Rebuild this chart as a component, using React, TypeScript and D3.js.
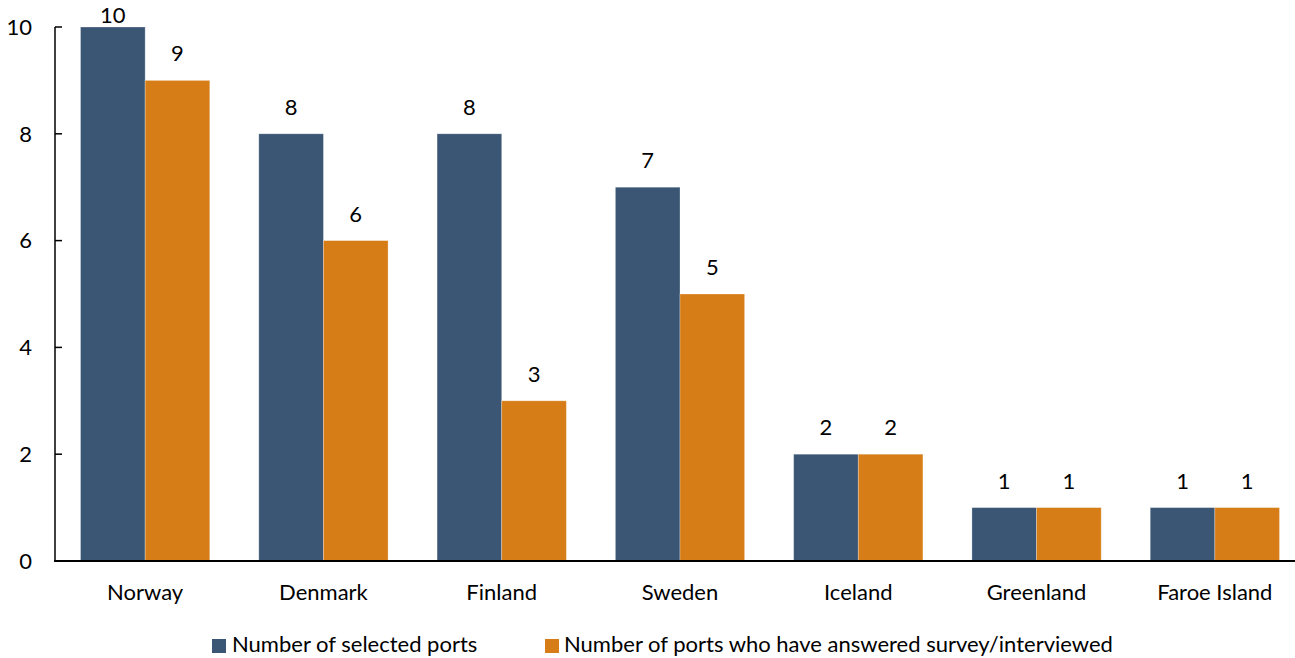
import React from "react";
import * as d3 from "d3";

// Ports per country
const countries = ["Norway", "Denmark", "Finland", "Sweden", "Iceland", "Greenland", "Faroe Island"];
const selectedPorts = [10, 8, 8, 7, 2, 1, 1];
const answeredPorts = [9, 6, 3, 5, 2, 1, 1];
const yTicks = [0, 2, 4, 6, 8, 10];
const seriesNames = ["Number of selected ports", "Number of ports who have answered survey/interviewed"];
const seriesColors = ["#3A5674", "#D77D17"];

const W = 1295;
const H = 658;
const FONT = "Lato, 'Open Sans', sans-serif";
const FS = 22;

export default function App() {
  const x = d3
    .scaleBand<string>()
    .domain(countries)
    .range([56, 1304])
    .paddingInner(0.275)
    .paddingOuter(0.1375);
  const xSub = d3.scaleBand<number>().domain([0, 1]).range([0, x.bandwidth()]);
  const y = d3.scaleLinear().domain([0, 10]).range([561, 27]);
  const series = [selectedPorts, answeredPorts];

  const labelY = (v: number) => Math.max(y(v) - 19, 23);

  return (
    <svg
      width={W}
      height={H}
      style={{ position: "absolute", left: 0, top: 0, background: "#fff" }}
      fontFamily={FONT}
    >
      {/* bars */}
      {series.map((vals, si) =>
        vals.map((v, i) => (
          <rect
            key={`b${si}-${i}`}
            x={(x(countries[i]) as number) + (xSub(si) as number)}
            y={y(v)}
            width={xSub.bandwidth()}
            height={y(0) - y(v)}
            fill={seriesColors[si]}
            stroke="#ffffff"
            strokeOpacity={0.35}
            strokeWidth={0.8}
          />
        ))
      )}
      {/* value labels */}
      {series.map((vals, si) =>
        vals.map((v, i) => (
          <text
            key={`l${si}-${i}`}
            x={(x(countries[i]) as number) + (xSub(si) as number) + xSub.bandwidth() / 2}
            y={labelY(v)}
            textAnchor="middle"
            fontSize={FS}
            fill="#000"
          >
            {v}
          </text>
        ))
      )}
      {/* y axis */}
      <line x1={55} x2={55} y1={y(10)} y2={y(0)} stroke="#000" strokeWidth={1.5} />
      {yTicks.map((t) => (
        <g key={`t${t}`}>
          <line x1={55} x2={62} y1={y(t)} y2={y(t)} stroke="#000" strokeWidth={1.5} />
          <text x={32} y={y(t)} dy="0.35em" textAnchor="end" fontSize={FS} fill="#000">
            {t}
          </text>
        </g>
      ))}
      {/* x axis */}
      <line x1={54} x2={W} y1={y(0)} y2={y(0)} stroke="#000" strokeWidth={2} />
      {countries.map((c) => (
        <text
          key={`c${c}`}
          x={(x(c) as number) + x.bandwidth() / 2}
          y={600}
          textAnchor="middle"
          fontSize={FS}
          fill="#000"
        >
          {c}
        </text>
      ))}
      {/* legend */}
      <rect x={212} y={639} width={14} height={14} fill={seriesColors[0]} />
      <text x={232} y={652} fontSize={FS} fill="#000">
        {seriesNames[0]}
      </text>
      <rect x={545} y={639} width={14} height={14} fill={seriesColors[1]} />
      <text x={564} y={652} fontSize={FS} fill="#000">
        {seriesNames[1]}
      </text>
    </svg>
  );
}
